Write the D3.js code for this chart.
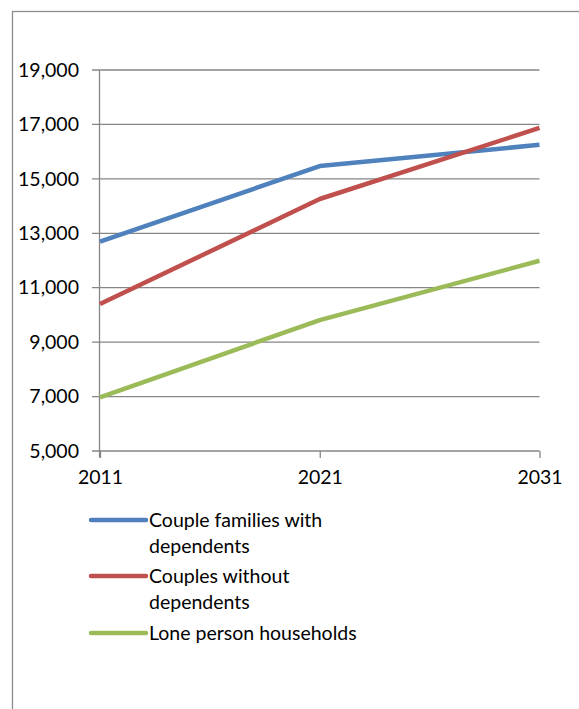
<!DOCTYPE html>
<html><head><meta charset="utf-8">
<script src="https://cdn.jsdelivr.net/npm/d3@7"></script>
<style>
body{margin:0;background:#fff;}
svg{display:block;}
text{font-family:Lato, "Open Sans", sans-serif;fill:#000;}
</style></head>
<body>
<svg id="c" width="579" height="709"></svg>
<script>
const years = ["2011","2021","2031"];
const coupleWithDeps = [12690, 15470, 16250];
const couplesNoDeps = [10400, 14260, 16870];
const lonePerson = [6970, 9810, 11990];
const seriesNames = ["Couple families with dependents","Couples without dependents","Lone person households"];
const legendLines = [["Couple families with","dependents"],["Couples without","dependents"],["Lone person households"]];
const yTicks = [5000,7000,9000,11000,13000,15000,17000,19000];
const colors = ["#4F81BD","#C0504D","#9BBB59"];

const svg = d3.select("#c");
const fs = 19.5;
// outer border
svg.append("rect").attr("x",12.5).attr("y",11.5).attr("width",600).attr("height",720)
  .attr("fill","none").attr("stroke","#8c8c8c").attr("stroke-width",1.3);

const x = d3.scalePoint().domain(years).range([100,539.5]);
const y = d3.scaleLinear().domain([5000,19000]).range([451,70]);

const g = svg.append("g");
// gridlines
g.selectAll("line.grid").data(yTicks).join("line")
  .attr("x1",92).attr("x2",539.5).attr("y1",d=>y(d)).attr("y2",d=>y(d))
  .attr("stroke","#868686").attr("stroke-width",1.3);
// y axis
const yAxis = d3.axisLeft(y).tickValues(yTicks).tickSize(0).tickPadding(21)
  .tickFormat(d3.format(","));
const ya = svg.append("g").attr("transform","translate(100,0)").call(yAxis);
ya.select(".domain").remove();
ya.selectAll("text").style("font-size",fs+"px").style("font-family","Lato").attr("fill","#000");
svg.append("line").attr("x1",99.5).attr("x2",99.5).attr("y1",70).attr("y2",457.5)
  .attr("stroke","#868686").attr("stroke-width",1.3);
// x axis
const xAxis = d3.axisBottom(x).tickSize(7).tickPadding(12);
const xa = svg.append("g").attr("transform",`translate(0,${y(5000)})`).call(xAxis);
xa.select(".domain").remove();
xa.selectAll("line").attr("stroke","#868686").attr("stroke-width",1.3);
xa.selectAll("text").style("font-size",fs+"px").style("font-family","Lato").attr("fill","#000");

const data = [coupleWithDeps, couplesNoDeps, lonePerson];
const line = d3.line().x((d,i)=>x(years[i])).y(d=>y(d));
svg.selectAll("path.s").data(data).join("path")
  .attr("d",line).attr("fill","none").attr("stroke",(d,i)=>colors[i])
  .attr("stroke-width",4.5).attr("stroke-linejoin","round");

// legend
const legY = [520, 576, 633];
const lg = svg.append("g");
legendLines.forEach((ls,i)=>{
  lg.append("line").attr("x1",91).attr("x2",146).attr("y1",legY[i]).attr("y2",legY[i])
    .attr("stroke",colors[i]).attr("stroke-width",4.5).attr("stroke-linecap","round");
  const t = lg.append("text").attr("x",149).attr("y",legY[i]+7).style("font-size",fs+"px");
  ls.forEach((s,j)=>t.append("tspan").attr("x",149).attr("dy",j?26:0).text(s));
});
</script>
</body></html>
